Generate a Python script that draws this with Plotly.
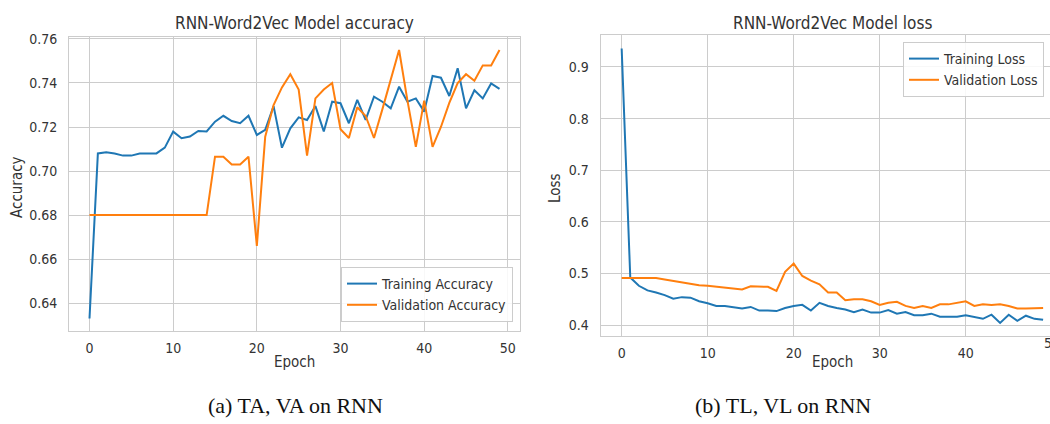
import plotly.graph_objects as go

# ---------------- data ----------------
epochs = list(range(50))

train_acc = [0.633, 0.708, 0.7085, 0.708, 0.707, 0.707, 0.708, 0.708, 0.708, 0.7106,
             0.7179, 0.7149, 0.7157, 0.7182, 0.718, 0.7224, 0.7251, 0.7227, 0.7217, 0.7251,
             0.7164, 0.7187, 0.7295, 0.7106, 0.7194, 0.7244, 0.7232, 0.7295, 0.718, 0.7315,
             0.7308, 0.7217, 0.7323, 0.7232, 0.7338, 0.7315, 0.7285, 0.7383, 0.7315, 0.733,
             0.727, 0.7432, 0.7424, 0.7341, 0.7467, 0.7285, 0.7367, 0.733, 0.7398, 0.7373]

val_acc = [0.680, 0.680, 0.680, 0.680, 0.680, 0.680, 0.680, 0.680, 0.680, 0.680,
           0.680, 0.680, 0.680, 0.680, 0.680, 0.7065, 0.7065, 0.703, 0.703, 0.7065,
           0.666, 0.7156, 0.730, 0.738, 0.744, 0.737, 0.707, 0.733, 0.737, 0.740,
           0.719, 0.715, 0.729, 0.725, 0.715, 0.728, 0.741, 0.755, 0.732, 0.711,
           0.732, 0.711, 0.720, 0.731, 0.740, 0.744, 0.741, 0.748, 0.748, 0.755]

train_loss = [0.936, 0.492, 0.476, 0.467, 0.463, 0.458, 0.451, 0.454, 0.453, 0.446,
              0.442, 0.437, 0.437, 0.435, 0.432, 0.435, 0.428, 0.428, 0.427, 0.433,
              0.437, 0.439, 0.428, 0.443, 0.437, 0.433, 0.430, 0.425, 0.430, 0.424,
              0.424, 0.429, 0.422, 0.425, 0.419, 0.419, 0.422, 0.416, 0.416, 0.416,
              0.419, 0.416, 0.412, 0.420, 0.404, 0.420, 0.408, 0.418, 0.412, 0.410]

val_loss = [0.491, 0.491, 0.490, 0.490, 0.491, 0.488, 0.485, 0.482, 0.479, 0.477,
            0.476, 0.474, 0.473, 0.471, 0.469, 0.475, 0.474, 0.474, 0.466, 0.503,
            0.519, 0.495, 0.486, 0.479, 0.463, 0.463, 0.448, 0.450, 0.450, 0.446,
            0.439, 0.443, 0.445, 0.437, 0.433, 0.437, 0.433, 0.440, 0.440, 0.443,
            0.446, 0.437, 0.440, 0.439, 0.440, 0.437, 0.432, 0.432, 0.433, 0.433]

x_ticks = [0, 10, 20, 30, 40, 50]
acc_ticks = [0.64, 0.66, 0.68, 0.70, 0.72, 0.74, 0.76]
loss_ticks = [0.4, 0.5, 0.6, 0.7, 0.8, 0.9]

# ---------------- layout helpers ----------------
W, H = 1050, 424
def fx(p):
    return p / W
def fy(p):
    return 1 - p / H

BLUE = "#1f77b4"
ORANGE = "#ff7f0e"
GRID = "#cccccc"
TXT = "#333333"
FONT = "DejaVu Sans Condensed, DejaVu Sans, sans-serif"

fig = go.Figure()
fig.add_trace(go.Scatter(x=epochs, y=train_acc, mode="lines", name="Training Accuracy",
                         line=dict(color=BLUE, width=2), xaxis="x", yaxis="y", legend="legend"))
fig.add_trace(go.Scatter(x=epochs, y=val_acc, mode="lines", name="Validation Accuracy",
                         line=dict(color=ORANGE, width=2), xaxis="x", yaxis="y", legend="legend"))
fig.add_trace(go.Scatter(x=epochs, y=train_loss, mode="lines", name="Training Loss",
                         line=dict(color=BLUE, width=2), xaxis="x2", yaxis="y2", legend="legend2"))
fig.add_trace(go.Scatter(x=epochs, y=val_loss, mode="lines", name="Validation Loss",
                         line=dict(color=ORANGE, width=2), xaxis="x2", yaxis="y2", legend="legend2"))

tickfont = dict(family=FONT, size=14, color=TXT)
common_x = dict(showgrid=True, gridcolor=GRID, gridwidth=1, zeroline=False, showline=True,
                linecolor=GRID, linewidth=1, ticks="", tickfont=tickfont, ticklabelstandoff=4)
common_y = dict(showgrid=True, gridcolor=GRID, gridwidth=1, zeroline=False, showline=True,
                linecolor=GRID, linewidth=1, ticks="", tickfont=tickfont, ticklabelstandoff=8)

fig.update_layout(
    width=W, height=H,
    margin=dict(l=0, r=0, t=0, b=0, pad=0, autoexpand=False),
    paper_bgcolor="white", plot_bgcolor="white",
    font=dict(family=FONT, size=14, color=TXT),
    xaxis=dict(domain=[fx(69), fx(520)], range=[-2.45, 51.45], tickvals=x_ticks,
               anchor="y", mirror=True, **common_x),
    yaxis=dict(domain=[fy(331), fy(37)], range=[0.6273, 0.7609], tickvals=acc_ticks,
               ticktext=["%.2f" % v for v in acc_ticks], anchor="x", mirror=True, **common_y),
    xaxis2=dict(domain=[fx(600.6), 1.0], range=[-2.45, 49.8], tickvals=x_ticks,
                anchor="y2", mirror=True, **common_x),
    yaxis2=dict(domain=[fy(336), fy(35)], range=[0.3787, 0.962], tickvals=loss_ticks,
                ticktext=["%.1f" % v for v in loss_ticks], anchor="x2", mirror=False, **common_y),
    legend=dict(x=fx(513), xanchor="right", y=fy(322), yanchor="bottom",
                bgcolor="rgba(255,255,255,0.85)", bordercolor=GRID, borderwidth=1,
                font=dict(family=FONT, size=14, color=TXT), tracegroupgap=0),
    legend2=dict(x=fx(903), xanchor="left", y=fy(42), yanchor="top",
                 bgcolor="rgba(255,255,255,0.85)", bordercolor=GRID, borderwidth=1,
                 font=dict(family=FONT, size=14, color=TXT), tracegroupgap=0),
    showlegend=True,
)

ann = []
def add_text(text, x, y, size, family=FONT, color=TXT, angle=0):
    ann.append(dict(text=text, x=fx(x), y=fy(y), xref="paper", yref="paper",
                    xanchor="center", yanchor="middle", showarrow=False, textangle=angle,
                    font=dict(family=family, size=size, color=color)))

add_text("RNN-Word2Vec Model accuracy", 294.5, 23, 17)
add_text("RNN-Word2Vec Model loss", 832, 23, 17)
add_text("Accuracy", 17, 187, 15, angle=-90)
add_text("Loss", 555, 188, 15, angle=-90)
add_text("Epoch", 294.5, 362, 15)
add_text("Epoch", 832, 362, 15)
# clipped "50" tick label of the right panel (beyond the visible edge, as in the reference)
add_text("50", 621.7 + 50 * 8.6, 343, 14)
add_text("(a) TA, VA on RNN", 295, 405, 22, family="Liberation Serif, Times New Roman, serif", color="#111111")
add_text("(b) TL, VL on RNN", 783, 405, 22, family="Liberation Serif, Times New Roman, serif", color="#111111")
fig.update_layout(annotations=ann)

fig.write_html("out.html")
